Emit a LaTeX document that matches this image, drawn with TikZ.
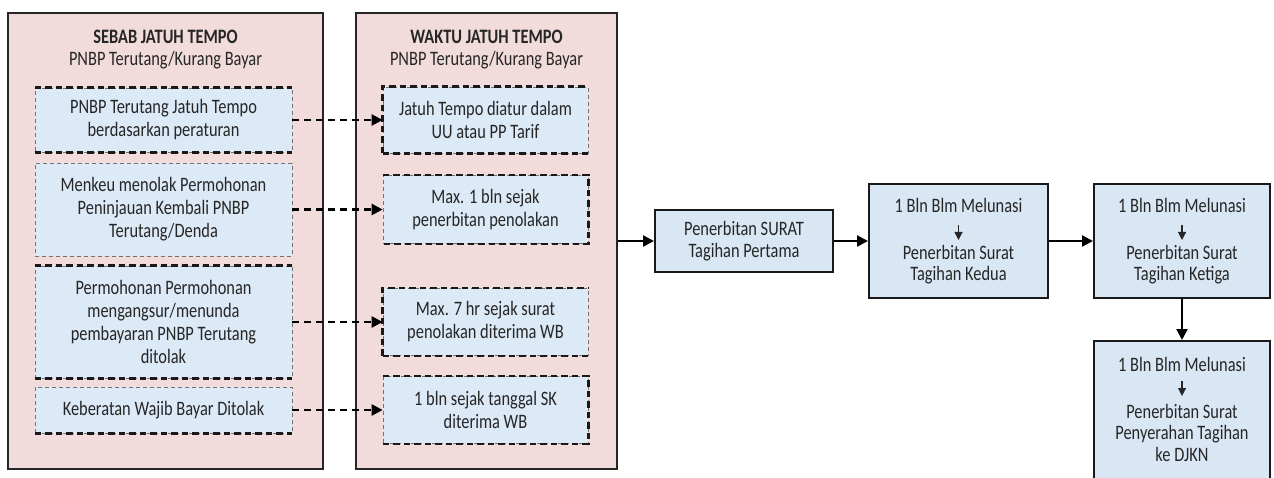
\documentclass[tikz,border=0pt]{standalone}
\usepackage{fontspec}
\setmainfont{Carlito}[FakeStretch=0.8]
\usetikzlibrary{arrows.meta,calc}
\definecolor{pinkfill}{HTML}{F2DCDB}
\definecolor{bluefill}{HTML}{DCE9F6}
\definecolor{boxfill}{HTML}{D9E7F4}
\definecolor{txt}{HTML}{262626}
\begin{document}
\begin{tikzpicture}[x=1pt,y=-1pt,
  base/.style={font=\fontsize{20.5}{23}\selectfont, text=txt, align=center, inner sep=0pt},
  rbase/.style={font=\fontsize{20.5}{21.5}\selectfont, text=txt, align=center, inner sep=0pt},
  panel/.style={draw=black!85, line width=1.8pt, fill=pinkfill, inner sep=0pt},
  titletext/.style={base, font=\fontsize{20.5}{23}\selectfont\bfseries},
  subtext/.style={base},
  innerbox/.style={base, draw=black!55, line width=0.7pt, dash pattern=on 4pt off 3pt, fill=bluefill, minimum width=#1},
  thickside/.style={draw=black!90, line width=2.4pt, dash pattern=on 6.5pt off 4pt},
  stepbox/.style={rbase, draw=black!90, line width=2pt, fill=boxfill},
  dasharrow/.style={draw=black, line width=2.4pt, dash pattern=on 7pt off 5pt, -{Triangle[length=11pt,width=11pt]}},
  solidarrow/.style={draw=black, line width=2.2pt, -{Triangle[length=11pt,width=11pt]}},
  smallarrow/.style={draw=black!85, line width=1.1pt, -{Triangle[length=8pt,width=8pt]}}
]
\useasboundingbox (0,0) rectangle (1274,478);
\fill[white] (0,0) rectangle (1274,478);

% panels
\node[panel, minimum width=315pt, minimum height=456pt] (p1) at (165.5,241) {};
\node[panel, minimum width=261pt, minimum height=456pt] (p2) at (486.5,241) {};
\node[titletext] (t1) at (165.5,37) {SEBAB JATUH TEMPO};
\node[subtext] (s1) at (165.5,60) {PNBP Terutang/Kurang Bayar};
\node[titletext] (t2) at (486.5,37) {WAKTU JATUH TEMPO};
\node[subtext] (s2) at (486.5,60) {PNBP Terutang/Kurang Bayar};

% left boxes
\node[innerbox=257pt, minimum height=64pt] (l1) at (163.5,120) {PNBP Terutang Jatuh Tempo\\berdasarkan peraturan};
\node[innerbox=257pt, minimum height=93pt] (l2) at (163.5,209.5) {Menkeu menolak Permohonan\\Peninjauan Kembali PNBP\\Terutang/Denda};
\node[innerbox=257pt, minimum height=112pt] (l3) at (163.5,322) {Permohonan Permohonan\\mengangsur/menunda\\pembayaran PNBP Terutang\\ditolak};
\node[innerbox=257pt, minimum height=46pt] (l4) at (163.5,410) {Keberatan Wajib Bayar Ditolak};

% middle boxes
\node[innerbox=205pt, minimum height=66pt] (m1) at (485.5,120) {Jatuh Tempo diatur dalam\\UU atau PP Tarif};
\node[innerbox=205pt, minimum height=68pt] (m2) at (485.5,209.5) {Max. 1 bln sejak\\penerbitan penolakan};
\node[innerbox=205pt, minimum height=67pt] (m3) at (485.5,322) {Max. 7 hr sejak surat\\penolakan diterima WB};
\node[innerbox=205pt, minimum height=67pt] (m4) at (485.5,410) {1 bln sejak tanggal SK\\diterima WB};

% thick dashed sides
\draw[thickside] (l1.north west) -- (l1.north east);
\draw[thickside] (l1.south west) -- (l1.south east);
\draw[thickside] (l3.north west) -- (l3.north east);
\draw[thickside] (l3.south west) -- (l3.south east);
\draw[thickside] (l4.south west) -- (l4.south east);
\draw[thickside] (m1.south west) -- (m1.north west) -- (m1.north east);
\draw[thickside] (m1.south west) -- (m1.south east);
\draw[thickside] (m2.north west) -- (m2.north east) -- (m2.south east) -- (m2.south west);
\draw[thickside] (m3.south west) -- (m3.north west) -- (m3.north east);
\draw[thickside] (m3.south west) -- (m3.south east);
\draw[thickside] (m4.north west) -- (m4.north east) -- (m4.south east) -- (m4.south west);

% dashed arrows
\draw[dasharrow] (l1.east) -- (l1.east -| m1.west);
\draw[dasharrow] (l2.east) -- (l2.east -| m2.west);
\draw[dasharrow] (l3.east) -- (l3.east -| m3.west);
\draw[dasharrow] (l4.east) -- (l4.east -| m4.west);

% right chain
\node[stepbox, minimum width=178pt, minimum height=62pt] (r1) at (744,241) {Penerbitan SURAT\\Tagihan Pertama};
\node[stepbox, minimum width=179pt, minimum height=114pt] (r2) at (958.5,241) {1 Bln Blm Melunasi\\[25.5pt]Penerbitan Surat\\Tagihan Kedua};
\node[stepbox, minimum width=176pt, minimum height=114pt] (r3) at (1182,241) {1 Bln Blm Melunasi\\[25.5pt]Penerbitan Surat\\Tagihan Ketiga};
\node[stepbox, minimum width=176pt, minimum height=160pt] (r4) at (1182,421) {};
\node[rbase] (r4t) at (1182,409) {1 Bln Blm Melunasi\\[25.5pt]Penerbitan Surat\\Penyerahan Tagihan\\ke DJKN};

\draw[smallarrow] ($(r2.center)+(0,-16)$) -- ($(r2.center)+(0,-1)$);
\draw[smallarrow] ($(r3.center)+(0,-16)$) -- ($(r3.center)+(0,-1)$);
\draw[smallarrow] ($(r4t.center)+(0,-28)$) -- ($(r4t.center)+(0,-13)$);

\draw[solidarrow] (p2.east |- r1.west) -- (r1.west);
\draw[solidarrow] (r1.east) -- (r2.west);
\draw[solidarrow] (r2.east) -- (r3.west);
\draw[solidarrow] (r3.south) -- (r4.north);
\end{tikzpicture}
\end{document}
